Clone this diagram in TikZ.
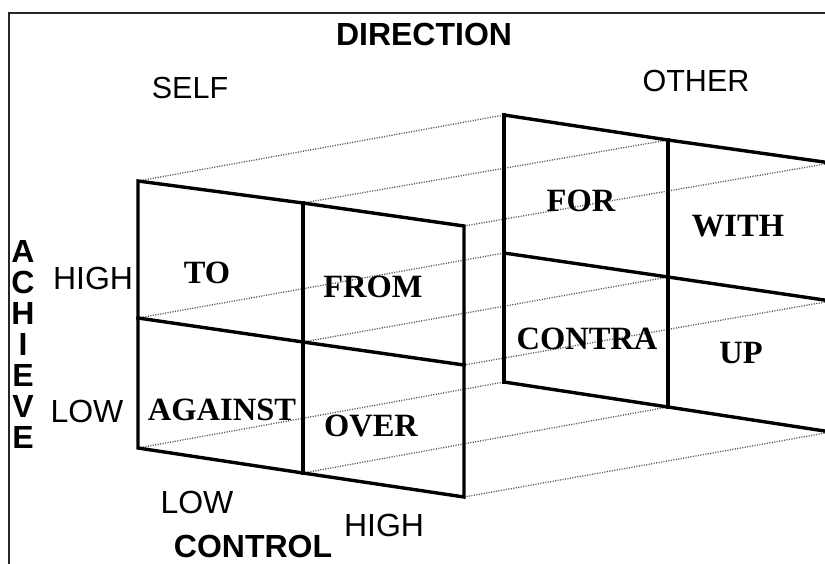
\documentclass[tikz,border=0pt]{standalone}
\usepackage{fontspec}
\setmainfont{Liberation Serif}
\setsansfont{Liberation Sans}
\begin{document}
\begin{tikzpicture}[x=1pt,y=-1pt,
  panel/.style={line width=3.4pt,black,line cap=rect,line join=miter},
  guide/.style={line width=1.3pt,gray!70!black,dash pattern=on 1.1pt off 1.4pt},
  frame/.style={line width=2.2pt,black!85},
  cell/.style={font=\rmfamily\bfseries\fontsize{32.5}{34}\selectfont,inner sep=0pt},
  lab/.style={font=\sffamily\fontsize{32}{34}\selectfont,inner sep=0pt},
  head/.style={font=\sffamily\bfseries\fontsize{32}{34}\selectfont,inner sep=0pt}]
\useasboundingbox (0,0) rectangle (825,564);
\clip (0,0) rectangle (825,564);
\fill[white] (0,0) rectangle (825,564);
% frame
\coordinate (frTL) at (9,13);
\coordinate (frTR) at (830,13);
\coordinate (frBL) at (9,570);
\draw[frame] (frTR) -- (frTL) -- (frBL);
% front panel points
\coordinate (fTL) at (138,181); \coordinate (fTM) at (303,203); \coordinate (fTR) at (464,226);
\coordinate (fML) at (138,318); \coordinate (fMM) at (303,342); \coordinate (fMR) at (464,365);
\coordinate (fBL) at (138,448); \coordinate (fBM) at (303,473); \coordinate (fBR) at (464,497);
% back panel points
\coordinate (bTL) at (504,115); \coordinate (bTM) at (668,140); \coordinate (bTR) at (831,163);
\coordinate (bML) at (504,253); \coordinate (bMM) at (668,277); \coordinate (bMR) at (831,301);
\coordinate (bBL) at (504,382); \coordinate (bBM) at (668,407); \coordinate (bBR) at (831,432);
% dotted guides
\foreach \p in {TL,TM,TR,ML,MM,MR,BL,BM,BR}
  \draw[guide] (f\p) -- (b\p);
% back panel
\draw[panel] (bTL) -- (bTM) -- (bTR);
\draw[panel] (bML) -- (bMM) -- (bMR);
\draw[panel] (bBL) -- (bBM) -- (bBR);
\draw[panel] (bTL) -- (bML) -- (bBL);
\draw[panel] (bTM) -- (bMM) -- (bBM);
% front panel
\draw[panel] (fTL) -- (fTM) -- (fTR) -- (fMR) -- (fBR) -- (fBM) -- (fBL) -- (fML) -- cycle;
\draw[panel] (fML) -- (fMM) -- (fMR);
\draw[panel] (fTM) -- (fMM) -- (fBM);
% cell texts
\node[cell] (to) at (207,273) {TO};
\node[cell] (from) at (373,287) {FROM};
\node[cell] (against) at (222,409.5) {AGAINST};
\node[cell] (over) at (371,426) {OVER};
\node[cell] (for) at (581,201) {FOR};
\node[cell] (with) at (738,226) {WITH};
\node[cell] (contra) at (587,339) {CONTRA};
\node[cell] (up) at (741,353) {UP};
% labels
\node[head] (direction) at (424,34) {DIRECTION};
\node[lab,font=\sffamily\fontsize{30.5}{32}\selectfont] (self) at (190,88) {SELF};
\node[lab,font=\sffamily\fontsize{30.5}{32}\selectfont] (other) at (696,81) {OTHER};
\node[lab] (hiA) at (93,278.5) {HIGH};
\node[lab] (loA) at (87,411.5) {LOW};
\node[lab] (loC) at (197,502.5) {LOW};
\node[lab] (hiC) at (384,525) {HIGH};
\node[head] (control) at (253,546) {CONTROL};
\node[head,align=center,font=\sffamily\bfseries\fontsize{32}{31}\selectfont] (achieve) at (23,344.5)
  {A\\C\\H\\I\\E\\V\\E};
\end{tikzpicture}
\end{document}
